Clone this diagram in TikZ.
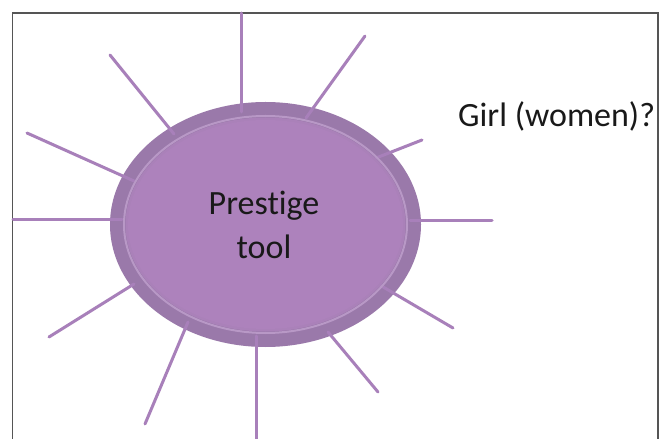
\documentclass[tikz,border=0pt]{standalone}
\usepackage{fontspec}
\setmainfont[Ligatures={NoCommon,NoRare}]{Carlito}
\definecolor{ray}{HTML}{A880BA}
\definecolor{band}{HTML}{9A79AA}
\definecolor{ringlight}{HTML}{B898C6}
\definecolor{core}{HTML}{AD82BC}
\definecolor{frame}{HTML}{555555}
\tikzset{
  rayline/.style={draw=ray, line width=3bp, line cap=round},
  label/.style={font=\fontsize{34bp}{44bp}\selectfont, text=black!90, inner sep=0pt},
}
\begin{document}
\begin{tikzpicture}[x=1bp,y=-1bp]
\useasboundingbox (0,0) rectangle (659,439);
\fill[white] (0,0) rectangle (659,439);
% frame
\draw[frame, line width=1.5bp] (12.5,445) -- (12.5,13) -- (658,13) -- (658,445);
% ray end points
\coordinate (o1) at (241,13);   \coordinate (i1) at (241,112);
\coordinate (o2) at (365,36);   \coordinate (i2) at (306,118);
\coordinate (o3) at (110,55);   \coordinate (i3) at (174,134);
\coordinate (o4) at (27,133);   \coordinate (i4) at (134,181);
\coordinate (o5) at (422,140);  \coordinate (i5) at (376,158);
\coordinate (o6) at (13,220);   \coordinate (i6) at (122,220);
\coordinate (o7) at (492,221);  \coordinate (i7) at (410,221);
\coordinate (o8) at (453,328);  \coordinate (i8) at (378,284);
\coordinate (o9) at (378,392);  \coordinate (i9) at (328,332);
\coordinate (o10) at (256,439); \coordinate (i10) at (256,336);
\coordinate (o11) at (145,424); \coordinate (i11) at (188,322);
\coordinate (o12) at (49,337);  \coordinate (i12) at (134,284);
% outer band
\fill[band] (265.5,224.5) ellipse [x radius=155.5, y radius=122.5];
% rays
\foreach \k in {1,...,12} { \draw[rayline] (o\k) -- (i\k); }
% light ring and core
\draw[ringlight, line width=2bp] (265.5,224.5) ellipse [x radius=141.5, y radius=108.5];
\fill[core!85!band] (265.5,224.5) ellipse [x radius=140, y radius=107];
\fill[core] (265.5,224.5) ellipse [x radius=137.5, y radius=104.5];
% texts
\node[label, align=center] (center) at (264,225) {Prestige\\tool};
\node[label, anchor=base west] (girl) at (458,127) {Girl (women)?};
\end{tikzpicture}
\end{document}
